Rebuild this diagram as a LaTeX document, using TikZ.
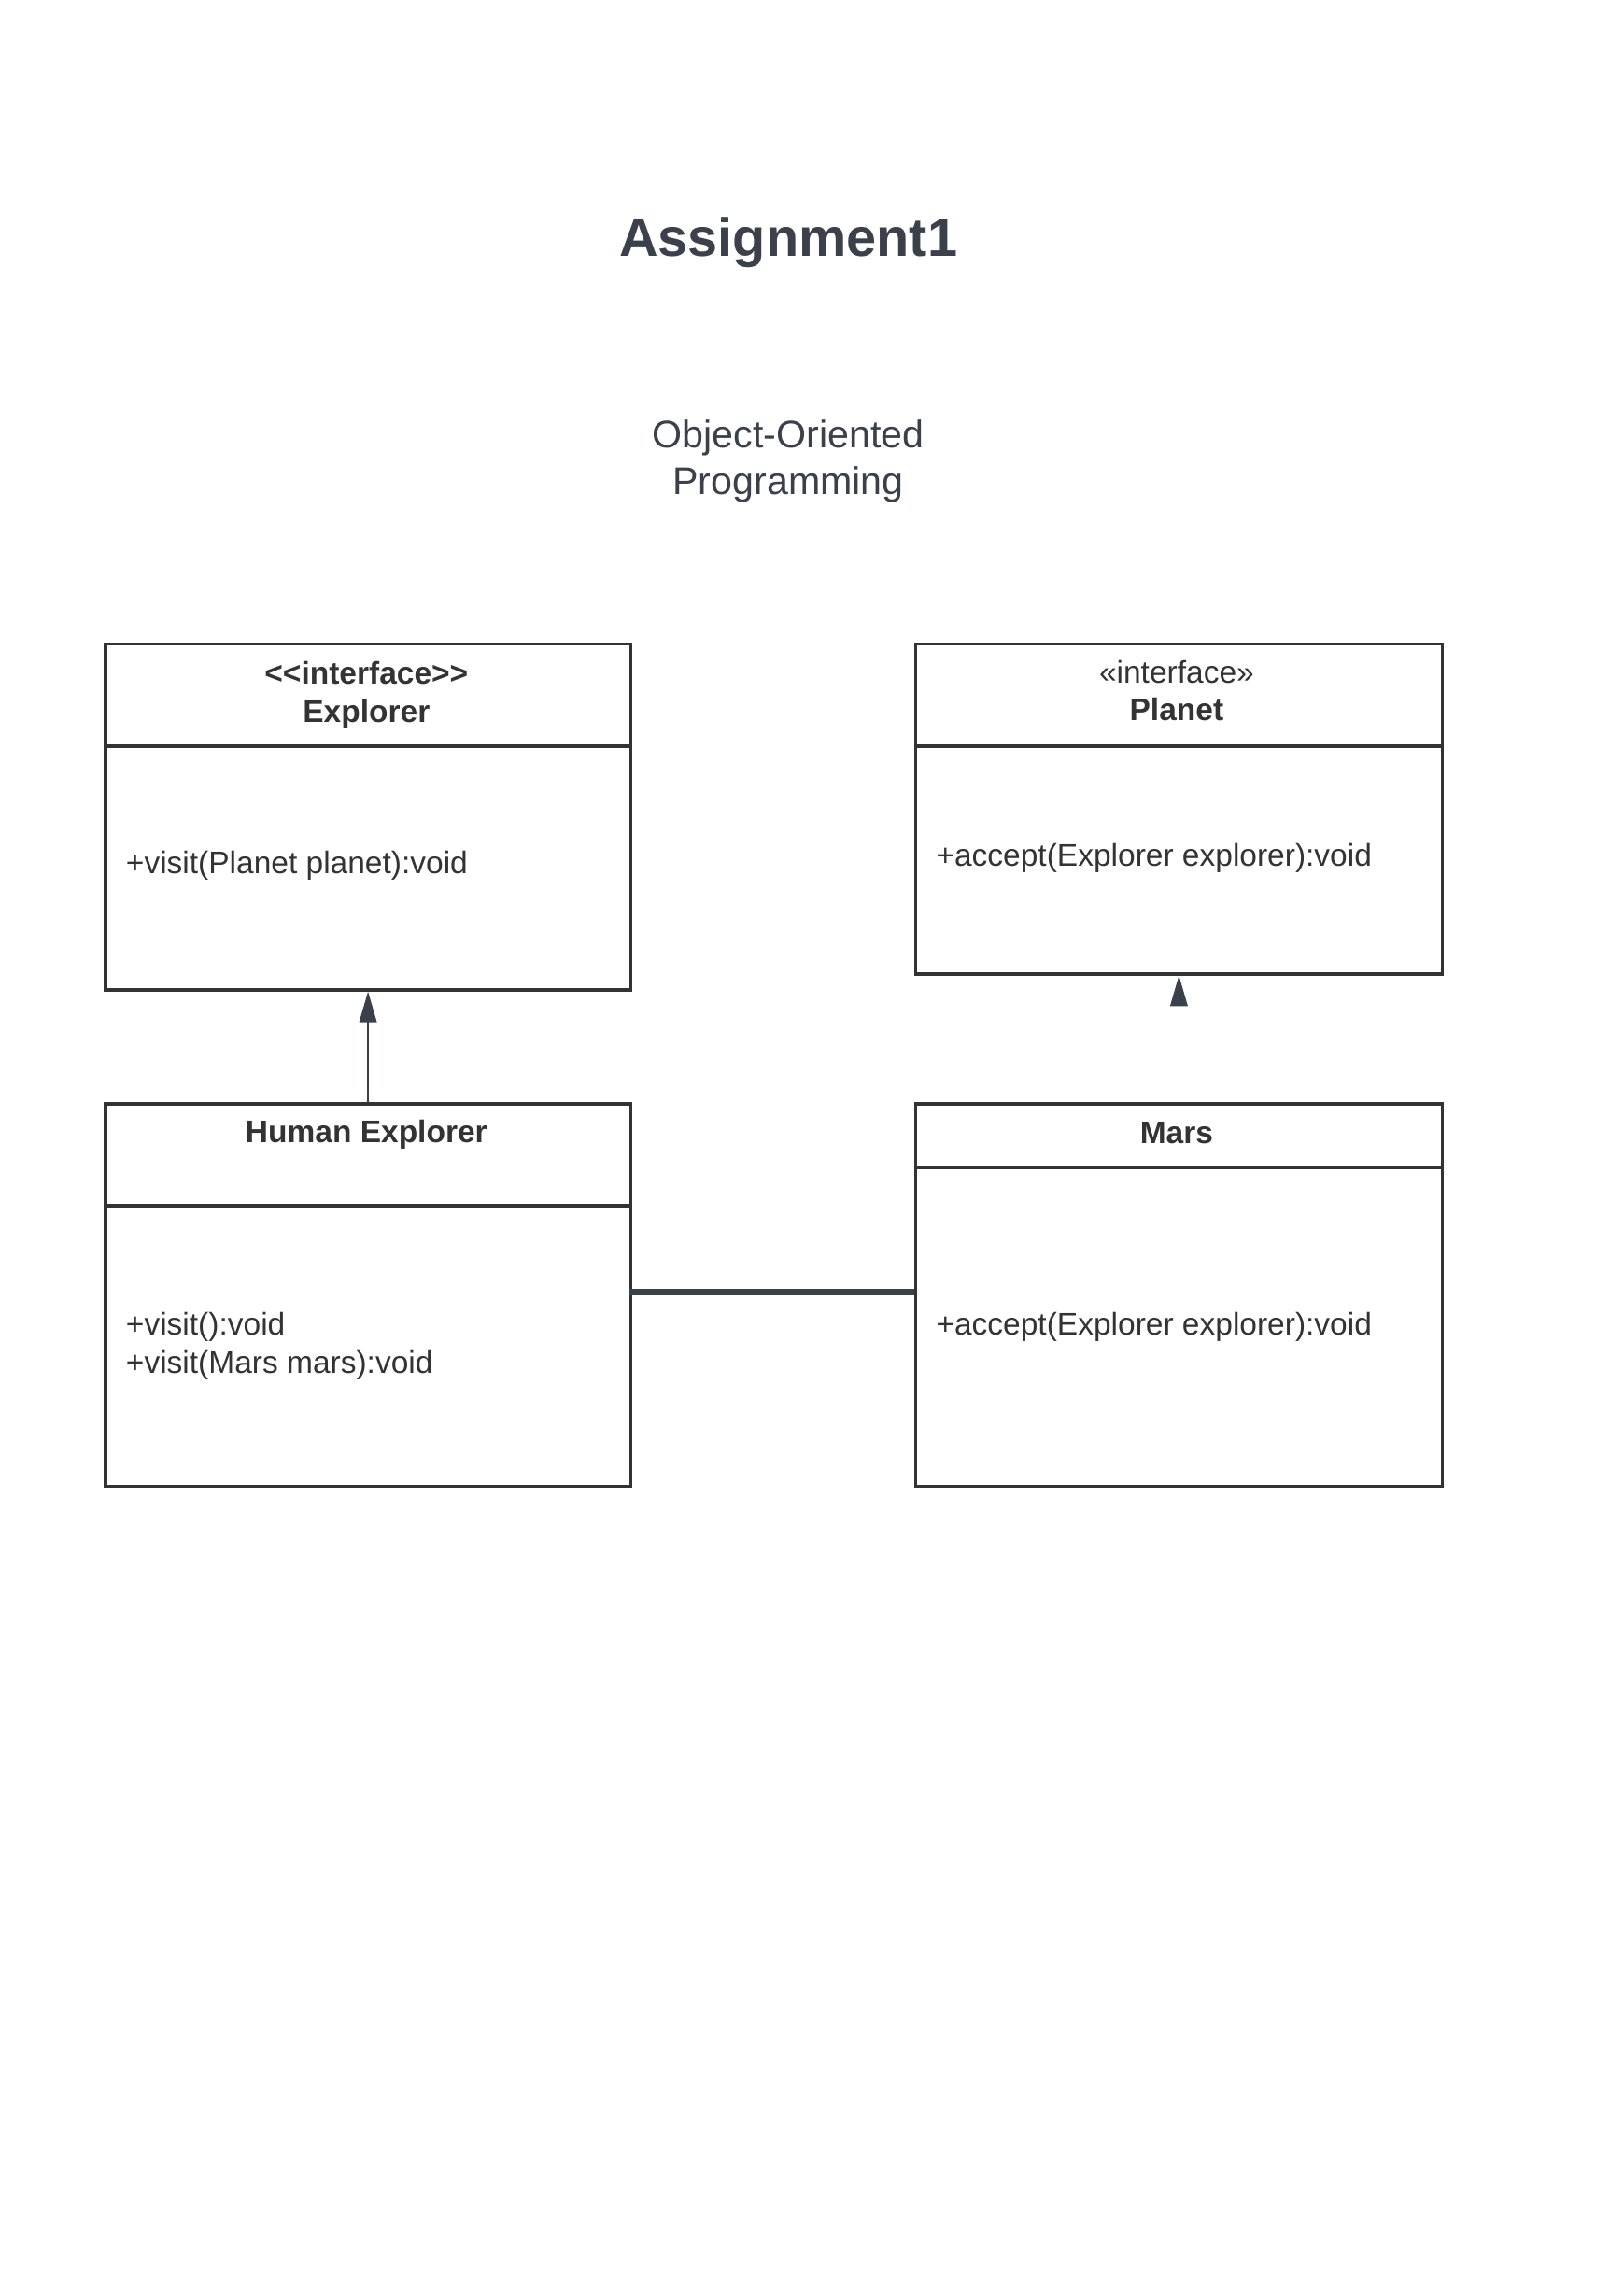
\documentclass[tikz,border=0pt]{standalone}
\usepackage{fontspec}
\setmainfont{Liberation Sans}[Ligatures=TeXOff]
\usepackage{tikz}
\usetikzlibrary{arrows.meta, positioning}

\definecolor{ink}{HTML}{333333}
\definecolor{slate}{HTML}{3A414A}

\begin{document}
\begin{tikzpicture}[x=0.02cm, y=-0.02cm,
	classbox/.style={draw=ink, line width=1.3pt, rectangle, anchor=north west, inner sep=0pt},
	divider/.style={draw=ink, line width=1.3pt},
	head/.style={text=ink, align=center, font=\fontsize{12.2}{14.8}\selectfont},
	method/.style={text=ink, align=left, anchor=west, inner sep=0pt, font=\fontsize{12.2}{14.8}\selectfont},
	inherit/.style={draw=slate, line width=0.5pt, -{Triangle[length=0.42cm, width=0.24cm]}},
	assoc/.style={draw=slate, line width=2.8pt}]
	\useasboundingbox (0,0) rectangle (1112,1568);
	% title
	\node[text=slate, font=\fontsize{21}{25}\selectfont\bfseries] (title) at (540,166) {Assignment1};
	\node[text=slate, align=center, font=\fontsize{15}{18.2}\selectfont] (subtitle) at (540,316) {Object-Oriented\\Programming};
	% classes
	\node[classbox, minimum width=7.2cm, minimum height=4.74cm] (explorer) at (71,440) {};
	\draw[divider] ([yshift=-1.42cm]explorer.north west) -- ([yshift=-1.42cm]explorer.north east);
	\node[head] (explorerhead) at (251,476) {\bfseries <<interface>>\\\bfseries Explorer};
	\node[method] (explorervisit) at (86,593) {+visit(Planet planet):void};

	\node[classbox, minimum width=7.22cm, minimum height=4.52cm] (planet) at (626,440) {};
	\draw[divider] ([yshift=-1.42cm]planet.north west) -- ([yshift=-1.42cm]planet.north east);
	\node[head] (planethead) at (806,473) {«interface»\\\bfseries Planet};
	\node[method] (planetaccept) at (641,588) {+accept(Explorer explorer):void};

	\node[classbox, minimum width=7.2cm, minimum height=5.24cm] (human) at (71,755) {};
	\draw[divider] ([yshift=-1.42cm]human.north west) -- ([yshift=-1.42cm]human.north east);
	\node[head] (humanhead) at (251,777) {\bfseries Human Explorer};
	\node[method] (humanvisit) at (86,922) {+visit():void\\+visit(Mars mars):void};

	\node[classbox, minimum width=7.22cm, minimum height=5.24cm] (mars) at (626,755) {};
	\draw[divider] ([yshift=-0.9cm]mars.north west) -- ([yshift=-0.9cm]mars.north east);
	\node[head] (marshead) at (806,776) {\bfseries Mars};
	\node[method] (marsaccept) at (641,909) {+accept(Explorer explorer):void};
	% relations
	\draw[inherit] (human.north) -- (explorer.south);
	\draw[inherit] (mars.north) -- (planet.south);
	\coordinate (assocleft) at (431,885);
	\coordinate (assocright) at (626,885);
	\draw[assoc] (assocleft) -- (assocright);
\end{tikzpicture}
\end{document}
